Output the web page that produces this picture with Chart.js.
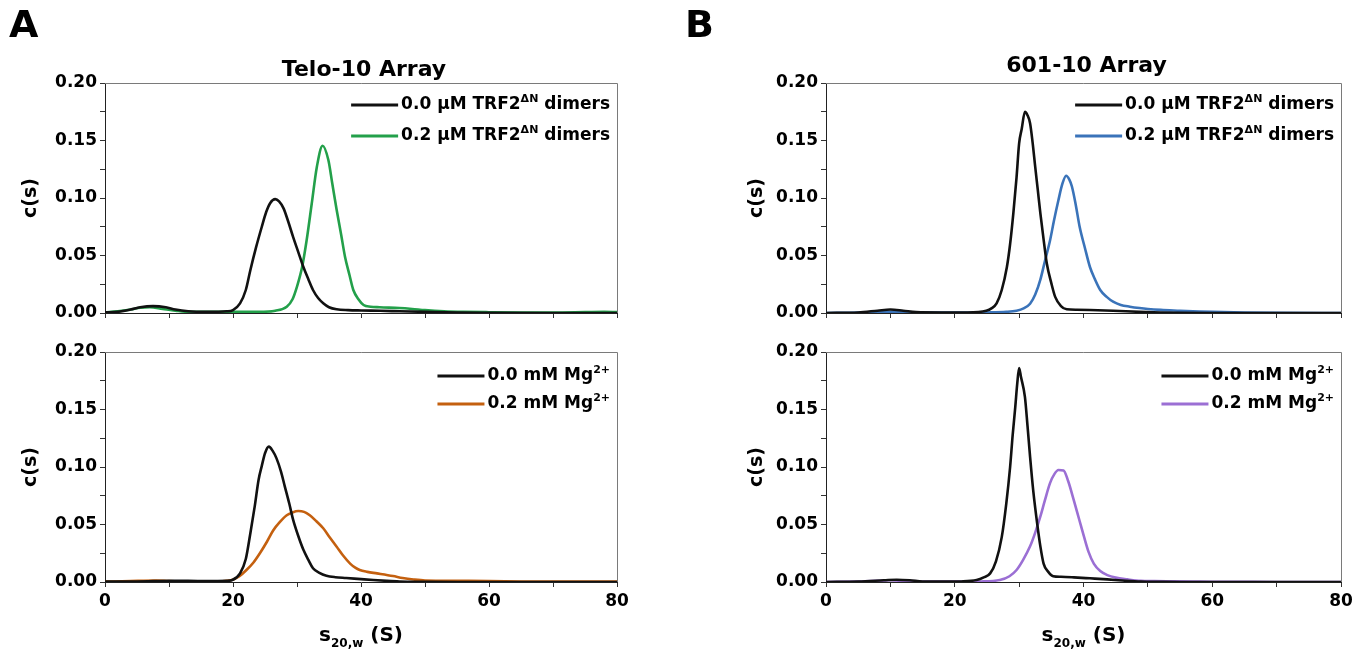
<!DOCTYPE html>
<html><head><meta charset="utf-8">
<script src="https://cdn.jsdelivr.net/npm/chart.js@4"></script>
<style>
html,body{margin:0;padding:0;background:#fff;width:1365px;height:653px;overflow:hidden}
canvas{position:absolute;display:block}
</style></head><body>
<canvas id="cTL" width="682" height="330" style="left:0;top:0"></canvas>
<canvas id="cBL" width="682" height="323" style="left:0;top:330px"></canvas>
<canvas id="cTR" width="683" height="330" style="left:682px;top:0"></canvas>
<canvas id="cBR" width="683" height="323" style="left:682px;top:330px"></canvas>
<script>
// ---------- tick values ----------
const xTickValues = [0, 20, 40, 60, 80];
const yTickValues = [0.00, 0.05, 0.10, 0.15, 0.20];

// ---------- Panel A top: Telo-10 Array, TRF2 titration ----------
const teloTrf0_s = [0,2,4,5.5,7.5,9.5,11,13,16,19,20,21.1,22,22.7,23.6,24.5,25.2,25.8,26.6,27.2,27.9,28.6,29.4,30.2,31.0,31.8,32.5,33.3,34.1,35,36.2,38,40,43,46,50,55,60,70,80];
const teloTrf0_c = [0.0005,0.001,0.003,0.005,0.006,0.005,0.003,0.0015,0.001,0.0015,0.0026,0.0084,0.02,0.037,0.057,0.075,0.088,0.0955,0.099,0.097,0.091,0.080,0.066,0.053,0.040,0.029,0.020,0.013,0.0084,0.005,0.0032,0.0025,0.0022,0.0019,0.0015,0.001,0.0004,0.0002,0,0];
const teloTrf2_s = [0,2,4,5.5,7,9,11,13,16,20,24,26.6,28.4,29.3,30,30.8,31.5,32.3,33.1,34.0,34.9,35.5,36.2,36.9,37.5,38.2,38.8,39.6,40.4,41.5,42.9,46,48,50,53,56,60,65,70,75,78,80];
const teloTrf2_c = [0.0005,0.0015,0.003,0.0045,0.005,0.0035,0.002,0.001,0.001,0.001,0.001,0.002,0.0055,0.012,0.023,0.04,0.063,0.095,0.127,0.1455,0.133,0.113,0.0896,0.068,0.049,0.033,0.020,0.012,0.007,0.0055,0.005,0.0043,0.0035,0.0025,0.0015,0.001,0.0007,0.0005,0.0005,0.0008,0.001,0.0008];

// ---------- Panel A bottom: Telo-10 Array, Mg2+ ----------
const teloMg0_s = [0,5,10,13,16,19,19.9,21.1,22,22.7,23.4,24.0,24.5,25.0,25.6,26.2,26.8,27.5,28.1,28.8,29.4,30.2,31,31.8,32.5,33.5,34.6,36,37.7,40,41.9,44,46,50,55,60,70,80];
const teloMg0_c = [0.0005,0.0005,0.001,0.001,0.0008,0.001,0.0017,0.0075,0.02,0.042,0.066,0.089,0.101,0.112,0.1177,0.114,0.1075,0.096,0.083,0.068,0.054,0.040,0.028,0.019,0.012,0.008,0.0055,0.0042,0.0035,0.0025,0.0017,0.001,0.0005,0.0002,0,0,0,0];
const teloMg2_s = [0,4,8,10,13,16,17.6,19,20.1,21,22.1,23.2,24.2,25.3,26.3,27.3,28.4,29.3,30.2,31.1,32,33,34.1,35.1,36.2,37.2,38.3,39.1,39.8,41,42.5,45,46.5,48.2,50,55,60,65,70,75,80];
const teloMg2_c = [0.0003,0.0008,0.0012,0.0008,0.0005,0.0005,0.0005,0.001,0.0023,0.005,0.0104,0.017,0.025,0.035,0.045,0.052,0.058,0.0605,0.0617,0.061,0.058,0.053,0.0467,0.039,0.0307,0.023,0.016,0.0125,0.0104,0.0088,0.0075,0.0052,0.0035,0.0022,0.0013,0.001,0.0009,0.0005,0.0004,0.0003,0.0003];

// ---------- Panel B top: 601-10 Array, TRF2 titration ----------
const arrTrf0_s = [0,5,8,10,12,14,18,22,24.9,25.7,26.5,27.3,28.1,28.6,29.1,29.6,30.0,30.4,30.9,31.3,31.7,32.1,32.5,32.9,33.3,33.8,34.3,35.0,35.6,36.5,37.4,39,41,44.6,48.7,52,55,60,70,80];
const arrTrf0_c = [0,0.0005,0.002,0.003,0.002,0.0008,0.0005,0.0005,0.002,0.004,0.0084,0.02,0.040,0.06,0.0867,0.118,0.1475,0.16,0.175,0.172,0.165,0.148,0.127,0.107,0.0867,0.064,0.043,0.026,0.014,0.006,0.0032,0.0028,0.0026,0.002,0.001,0.0005,0.0002,0,0,0];
const arrTrf2_s = [0,5,8,10,12,15,20,25,28,29.6,30.7,31.7,32.5,33.3,34.0,34.8,35.4,36.1,36.7,37.3,37.8,38.2,38.8,39.4,40.2,41,41.8,42.6,43.6,44.6,45.8,47.2,48.7,50,52,55,58,60,65,70,80];
const arrTrf2_c = [0,0.0003,0.0008,0.001,0.0008,0.0005,0.0003,0.0005,0.001,0.002,0.004,0.008,0.016,0.029,0.045,0.063,0.08,0.098,0.112,0.1194,0.116,0.11,0.094,0.075,0.057,0.040,0.029,0.020,0.014,0.0098,0.007,0.0055,0.0043,0.0035,0.0027,0.002,0.0013,0.001,0.0005,0.0002,0];

// ---------- Panel B bottom: 601-10 Array, Mg2+ ----------
const arrMg0_s = [0,5,9,11,13,15,18,21,23.4,24.5,25.5,26.4,27.3,28.0,28.6,29.0,29.4,29.7,30.0,30.3,30.9,31.3,31.7,32.2,32.8,33.3,33.8,34.5,35.3,36.5,38.5,41,43.7,46,48.9,52,55,60,70,80];
const arrMg0_c = [0,0.0005,0.0015,0.002,0.0015,0.0005,0.0003,0.0005,0.0017,0.004,0.0075,0.018,0.039,0.068,0.100,0.128,0.152,0.172,0.186,0.178,0.161,0.136,0.109,0.079,0.051,0.031,0.016,0.009,0.005,0.0045,0.004,0.0032,0.0023,0.0013,0.0003,0.0001,0,0,0,0];
const arrMg2_s = [0,5,8,10,12,15,20,24,27,28.5,29.6,30.6,31.7,32.5,33.3,34.0,34.8,35.5,36.1,36.9,37.6,38.5,39.3,40.1,40.8,41.6,42.6,43.7,45,46.8,48.9,51,54,57,60,65,70,80];
const arrMg2_c = [0,0.0005,0.001,0.0015,0.001,0.0005,0.0003,0.0005,0.0017,0.005,0.0104,0.019,0.031,0.043,0.057,0.071,0.086,0.094,0.0974,0.097,0.088,0.071,0.055,0.039,0.026,0.016,0.0095,0.006,0.0038,0.0023,0.001,0.0008,0.0006,0.0004,0.0002,0.0001,0,0];

// ---------- labels ----------
const panelLetters = ['A', 'B'];
const panelTitles = ['Telo-10 Array', '601-10 Array'];
const trfLegend = [[['0.0 µM TRF2',0],['ΔN',1],[' dimers',0]], [['0.2 µM TRF2',0],['ΔN',1],[' dimers',0]]];
const mgLegend = [[['0.0 mM Mg',0],['2+',1]], [['0.2 mM Mg',0],['2+',1]]];
const xAxisTitle = [['s',0],['20,w',-1],[' (S)',0]];
const yAxisTitle = 'c(s)';

const COLORS = {black:'#111111', green:'#23a04a', orange:'#c4600f', blue:'#3a73b9', purple:'#9b6fd4'};
const FONT = '"DejaVu Sans", "Liberation Sans", Arial, sans-serif';

function pts(xs, ys){ return xs.map((x,i)=>({x:x, y:ys[i]})); }

function richWidth(ctx, parts, size){
  let w = 0;
  for (const [t,m] of parts){
    ctx.font = 'bold ' + (m===0 ? size : Math.round(size*0.62)) + 'px ' + FONT;
    w += ctx.measureText(t).width;
  }
  return w;
}
function drawRich(ctx, parts, x, y, size){
  let cx = x;
  ctx.textBaseline = 'middle';
  ctx.textAlign = 'left';
  for (const [t,m] of parts){
    const s = m===0 ? size : Math.round(size*0.62);
    ctx.font = 'bold ' + s + 'px ' + FONT;
    const dy = m===1 ? -size*0.36 : (m===-1 ? size*0.38 : 0);
    ctx.fillText(t, cx, y + dy);
    cx += ctx.measureText(t).width;
  }
}

const decor = {
  id: 'decor',
  afterDraw(chart, args, o){
    const ctx = chart.ctx, a = chart.chartArea;
    ctx.save();
    // frame (top + right)
    ctx.strokeStyle = '#7a7a7a'; ctx.lineWidth = 1;
    ctx.beginPath();
    ctx.moveTo(a.left, a.top + 0.5); ctx.lineTo(a.right + 0.5, a.top + 0.5); ctx.lineTo(a.right + 0.5, a.bottom);
    ctx.stroke();
    ctx.fillStyle = '#000';
    // panel letter
    if (o.letter){
      ctx.font = 'bold 38px ' + FONT; ctx.textAlign = 'left'; ctx.textBaseline = 'middle';
      ctx.fillText(o.letter, o.letterX, 27);
    }
    // title
    if (o.title){
      ctx.font = 'bold 22px ' + FONT; ctx.textAlign = 'center'; ctx.textBaseline = 'middle';
      ctx.fillText(o.title, (a.left + a.right)/2 + 3, o.titleY);
    }
    // y title
    ctx.save();
    ctx.translate(o.yTitleX, (a.top + a.bottom)/2);
    ctx.rotate(-Math.PI/2);
    ctx.font = 'bold 19px ' + FONT; ctx.textAlign = 'center'; ctx.textBaseline = 'middle';
    ctx.fillText(yAxisTitle, 0, 0);
    ctx.restore();
    // x title
    if (o.xTitleY){
      const w = richWidth(ctx, xAxisTitle, 20);
      drawRich(ctx, xAxisTitle, (a.left + a.right)/2 - w/2, o.xTitleY, 20);
    }
    // legend
    const lsize = 17;
    const widths = o.legend.map(p => richWidth(ctx, p, lsize));
    const tw = Math.max(...widths);
    const tx = a.right - 7 - tw;
    o.legend.forEach((p, i) => {
      const y = o.legendY + i*o.legendGap;
      ctx.strokeStyle = o.colors[i]; ctx.lineWidth = 3;
      ctx.beginPath(); ctx.moveTo(tx - 50, y); ctx.lineTo(tx - 3, y); ctx.stroke();
      ctx.fillStyle = '#000';
      drawRich(ctx, p, tx, y, lsize);
    });
    ctx.restore();
  }
};

function makeChart(id, series, colors, opts){
  const datasets = series.map((s, i) => ({
    data: pts(s[0], s[1]),
    borderColor: colors[i],
    borderWidth: 2.6,
    pointRadius: 0,
    fill: false,
    cubicInterpolationMode: 'monotone'
  }));
  return new Chart(document.getElementById(id), {
    type: 'line',
    data: { datasets },
    options: {
      responsive: false,
      animation: false,
      layout: { padding: opts.padding },
      plugins: {
        legend: { display: false },
        tooltip: { enabled: false },
        title: { display: false },
        decor: opts.decor
      },
      scales: {
        x: {
          type: 'linear', min: 0, max: 80,
          afterBuildTicks: (s) => { s.ticks = [0,10,20,30,40,50,60,70,80].map(v => ({value: v})); },
          afterFit: (s) => { s.height = opts.xHeight; },
          grid: { drawOnChartArea: false, drawTicks: true, tickLength: 5, color: '#333', tickColor: '#333' },
          border: { display: true, color: '#222', width: 1 },
          ticks: {
            display: opts.xLabels,
            padding: 4,
            color: '#000',
            font: { family: FONT, size: 17, weight: 'bold' },
            maxRotation: 0,
            autoSkip: false,
            callback: (v) => xTickValues.includes(v) ? String(v) : ''
          }
        },
        y: {
          min: 0, max: 0.2,
          afterBuildTicks: (s) => { s.ticks = [0,0.025,0.05,0.075,0.1,0.125,0.15,0.175,0.2].map(v => ({value: v})); },
          afterFit: (s) => { s.width = opts.yWidth; },
          grid: { drawOnChartArea: false, drawTicks: true, tickLength: 5, color: '#333', tickColor: '#333' },
          border: { display: true, color: '#222', width: 1 },
          ticks: {
            padding: 3,
            color: '#000',
            autoSkip: false,
            font: { family: FONT, size: 17, weight: 'bold' },
            callback: (v) => yTickValues.some(t => Math.abs(t - v) < 1e-6) ? v.toFixed(2) : ''
          }
        }
      }
    },
    plugins: [decor]
  });
}

makeChart('cTL', [[teloTrf0_s, teloTrf0_c],[teloTrf2_s, teloTrf2_c]], [COLORS.black, COLORS.green], {
  padding: {left: 0, right: 65, top: 83, bottom: 0}, xHeight: 17, yWidth: 105, xLabels: false,
  decor: {letter: panelLetters[0], letterX: 9, title: panelTitles[0], titleY: 70, yTitleX: 31,
          legend: trfLegend, colors: [COLORS.black, COLORS.green], legendY: 105, legendGap: 31}
});
makeChart('cBL', [[teloMg0_s, teloMg0_c],[teloMg2_s, teloMg2_c]], [COLORS.black, COLORS.orange], {
  padding: {left: 0, right: 65, top: 22, bottom: 0}, xHeight: 71, yWidth: 105, xLabels: true,
  decor: {yTitleX: 31, xTitleY: 306,
          legend: mgLegend, colors: [COLORS.black, COLORS.orange], legendY: 46, legendGap: 28}
});
makeChart('cTR', [[arrTrf0_s, arrTrf0_c],[arrTrf2_s, arrTrf2_c]], [COLORS.black, COLORS.blue], {
  padding: {left: 0, right: 24, top: 83, bottom: 0}, xHeight: 17, yWidth: 144, xLabels: false,
  decor: {letter: panelLetters[1], letterX: 3, title: panelTitles[1], titleY: 66, yTitleX: 75,
          legend: trfLegend, colors: [COLORS.black, COLORS.blue], legendY: 105, legendGap: 31}
});
makeChart('cBR', [[arrMg0_s, arrMg0_c],[arrMg2_s, arrMg2_c]], [COLORS.black, COLORS.purple], {
  padding: {left: 0, right: 24, top: 22, bottom: 0}, xHeight: 71, yWidth: 144, xLabels: true,
  decor: {yTitleX: 75, xTitleY: 306,
          legend: mgLegend, colors: [COLORS.black, COLORS.purple], legendY: 46, legendGap: 28}
});
</script>
</body></html>
